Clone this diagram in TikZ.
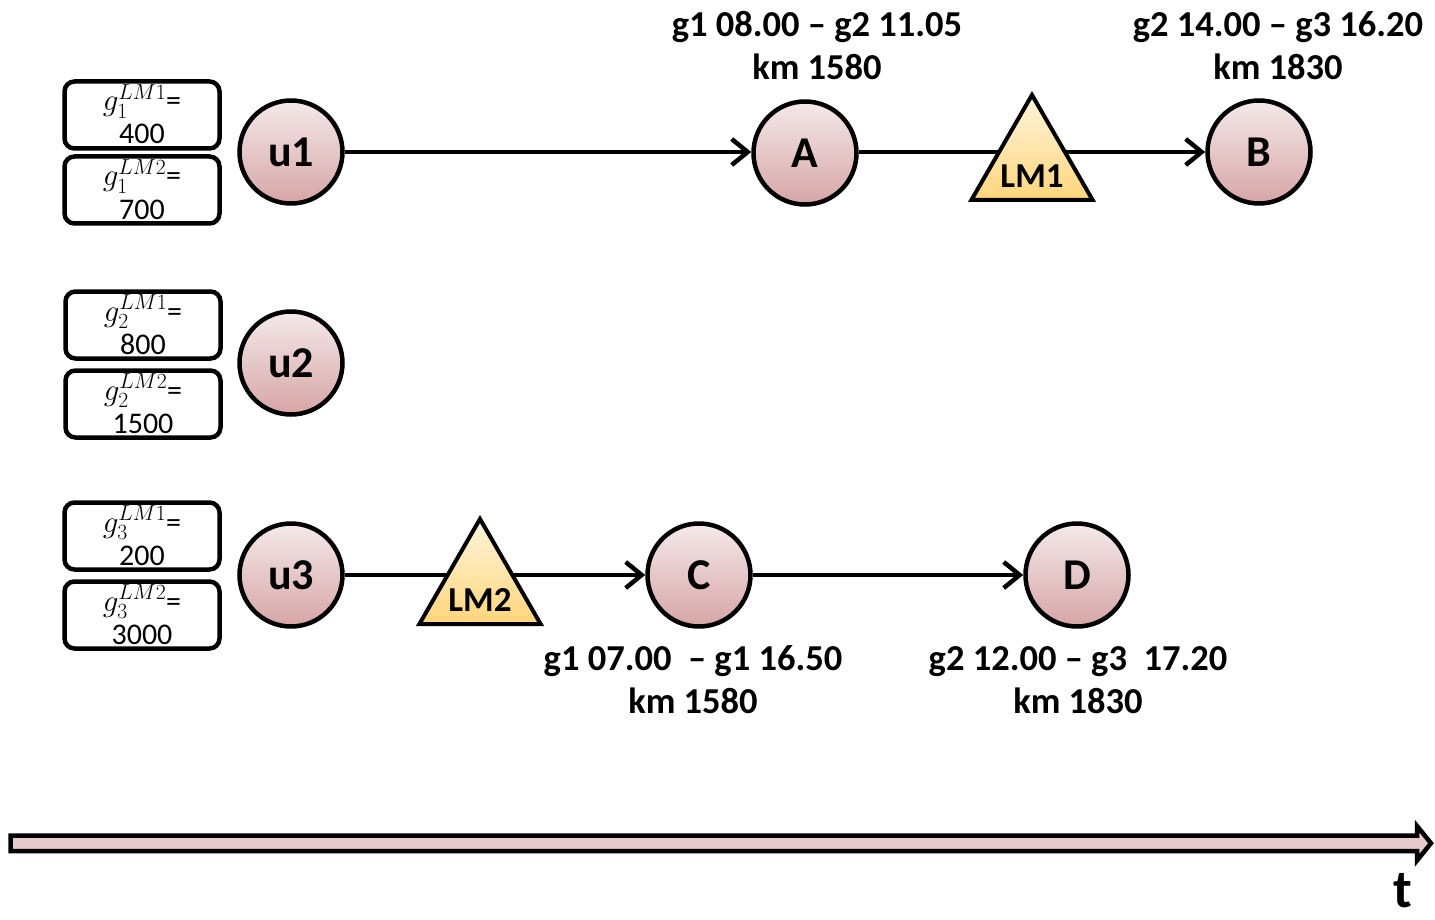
\RequirePackage{fix-cm}
\documentclass[tikz,border=0pt]{standalone}
\usepackage{fontspec}
\setmainfont{Carlito}
\usetikzlibrary{arrows.meta,shapes.geometric}

\definecolor{discTop}{HTML}{F4E9EA}
\definecolor{discBot}{HTML}{D7A5A6}
\definecolor{triTop}{HTML}{FFF5DC}
\definecolor{triBot}{HTML}{FFD57C}
\definecolor{axisFill}{HTML}{E8CACA}

% quota symbol: math g with unit index and landmark superscript
\newcommand{\quotasym}[2]{{\fontsize{31}{31}\selectfont$g_{#1}^{LM#2}$}=}

\begin{document}
\begin{tikzpicture}[x=1pt,y=-1pt,
  stop/.style={circle, draw, line width=4.5pt, minimum size=103pt, inner sep=0pt,
    top color=discTop, bottom color=discBot,
    font=\fontsize{44}{44}\selectfont\bfseries},
  lmtri/.style={regular polygon, regular polygon sides=3, draw, line width=4pt,
    minimum size=140pt, inner sep=0pt, top color=triTop, bottom color=triBot},
  lmtext/.style={font=\fontsize{35}{35}\selectfont\bfseries, inner sep=0pt},
  quota/.style={draw, line width=4.5pt, rounded corners=10pt, minimum width=155pt,
    minimum height=67pt, inner sep=0pt},
  quotatext/.style={font=\fontsize{30}{30}\selectfont, inner sep=0pt, anchor=base},
  route/.style={line width=4.5pt, -{Straight Barb[length=16pt,width=26pt,line width=4.5pt]}},
  info/.style={align=center, inner sep=0pt, font=\fontsize{36.5}{43}\selectfont\bfseries}
]
\useasboundingbox (0,0) rectangle (1435,920);

% quota boxes per unit
\node[quota] (q11) at (142,115) {};
\node[quota] (q12) at (142,190) {};
\node[quota] (q21) at (143,325) {};
\node[quota] (q22) at (143,404) {};
\node[quota] (q31) at (142,536) {};
\node[quota] (q32) at (142,615) {};
\foreach \qb/\u/\k/\val in {q11/1/1/400, q12/1/2/700, q21/2/1/800,
                            q22/2/2/1500, q31/3/1/200, q32/3/2/3000}{
  \node[quotatext] (\qb s) at ([yshift=4pt]\qb.center) {\quotasym{\u}{\k}};
  \node[quotatext] (\qb v) at ([yshift=-29pt]\qb.center) {\val};
}

% units and stops
\node[stop] (u1) at (291,152) {u1};
\node[stop] (u2) at (291,363) {u2};
\node[stop] (u3) at (291,575) {u3};
\node[stop] (A) at (805,153) {A};
\node[stop] (B) at (1259,152) {B};
\node[stop] (C) at (699,575) {C};
\node[stop] (D) at (1077,575) {D};

% routes
\draw[route] (u1) -- (A.west |- u1);
\draw[route] (A.east |- B) -- (B);
\draw[route] (u3) -- (C);
\draw[route] (C) -- (D);

% landmarks on the routes
\node[lmtri] (lm1) at (1032,165) {};
\node[lmtext] (lm1t) at (1032,176) {LM1};
\node[lmtri] (lm2) at (480,589) {};
\node[lmtext] (lm2t) at (480,600) {LM2};

% time windows and distances
\node[info] (iA) at (817,46) {g1 08.00 -- g2 11.05\\km 1580};
\node[info] (iB) at (1278,46) {g2 14.00 -- g3 16.20\\km 1830};
\node[info] (iC) at (693,680) {g1 07.00\ \ -- g1 16.50\\km 1580};
\node[info] (iD) at (1078,680) {g2 12.00 -- g3\ \ 17.20\\km 1830};

% time axis
\draw[line width=4.5pt, fill=axisFill, line join=miter]
  (10.5,835.5) -- (1417,835.5) -- (1417,826) -- (1431,843.2) -- (1417,860.5)
  -- (1417,851) -- (10.5,851) -- cycle;
\node[font=\fontsize{54}{54}\selectfont\bfseries, inner sep=0pt] (tlab) at (1403,891) {t};
\end{tikzpicture}
\end{document}
